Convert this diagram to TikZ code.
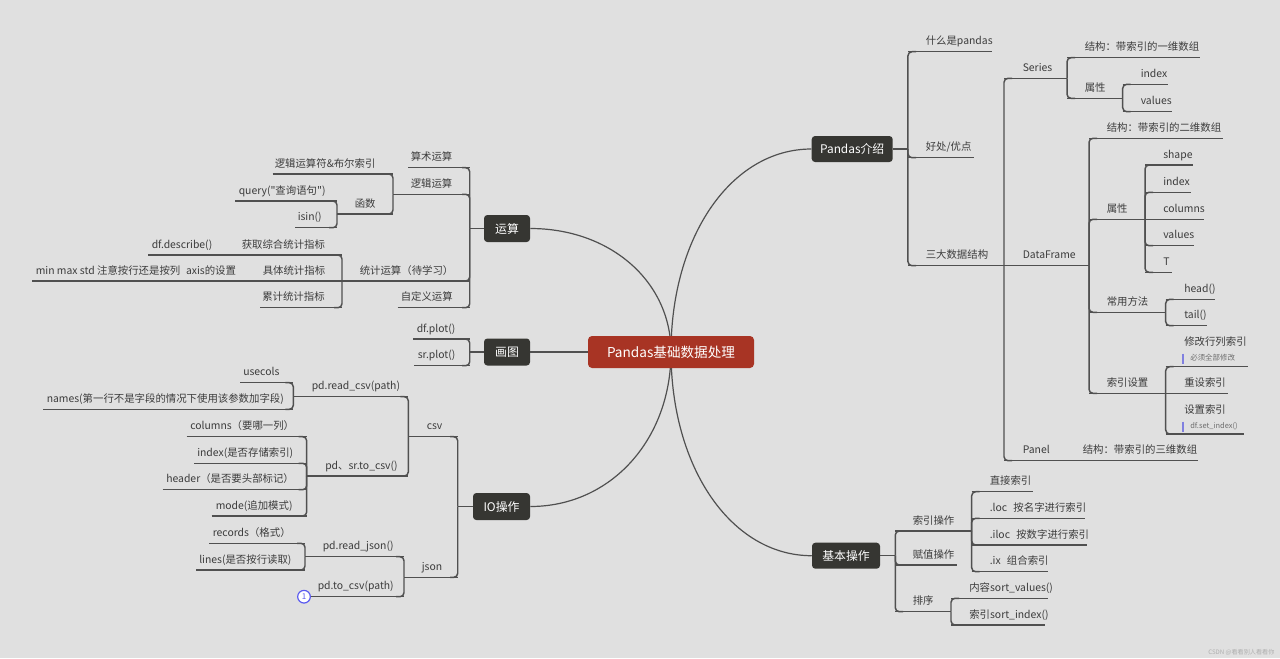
\documentclass[tikz,border=0pt]{standalone}
\usepackage{fontspec}
\setmainfont{Noto Sans CJK SC}[Ligatures=TeXOff]
\usetikzlibrary{calc}
\definecolor{bgc}{HTML}{E0E0E0}
\definecolor{linec}{HTML}{505050}
\definecolor{boxc}{HTML}{363632}
\definecolor{rootc}{HTML}{A83424}
\definecolor{txtc}{HTML}{3C3C3C}
\definecolor{notec}{HTML}{8080E0}
\definecolor{circc}{HTML}{5A5AF0}
\definecolor{wmc}{HTML}{AFAFAF}
\pgfdeclarelayer{bg}
\pgfsetlayers{bg,main}
\tikzset{
  lbl/.style={anchor=base west, inner sep=0pt, text=txtc, font=\fontsize{7.8}{9}\selectfont},
  notelbl/.style={anchor=base west, inner sep=0pt, text=txtc!75, font=\fontsize{5.6}{6}\selectfont},
  ul/.style={draw=linec, line width=1.1pt},
  conn/.style={draw=linec, line width=1.1pt, rounded corners=3pt},
  curve/.style={draw=linec, line width=0.9pt},
  notebar/.style={draw=notec, line width=1.4pt},
  topicbox/.style={fill=boxc, rounded corners=2.5pt, text=white, font=\fontsize{8.9}{10}\selectfont, inner sep=0pt},
  rootbox/.style={fill=rootc, rounded corners=3pt, text=white, font=\fontsize{10.2}{12}\selectfont, inner sep=0pt},
}
% right-side topic: id, x-left, x-right, y-underline, text-x, text
\newcommand\topR[7][7]{%
  \coordinate (#2-l) at (#3,#5);
  \coordinate (#2-r) at (#4,#5);
  \coordinate (#2-a) at (#3+8,#5);
  \node[lbl] (#2) at (#6,#5-#1) {#7};
  \draw[ul] (#2-l) -- (#2-r);}
% left-side topic
\newcommand\topL[7][7]{%
  \coordinate (#2-l) at (#3,#5);
  \coordinate (#2-r) at (#4,#5);
  \coordinate (#2-a) at (#4-8,#5);
  \node[lbl] (#2) at (#6,#5-#1) {#7};
  \draw[ul] (#2-l) -- (#2-r);}
\newcommand\linkc[2]{\draw[conn] (#1) |- (#2-a);}
\newcommand\links[2]{\draw[ul] (#1) -- (#2-a);}
% curve from root centre to node #1 at anchor #2
\newcommand\mcurve[2]{%
  \coordinate (k-#1) at (root.center |- #1.#2);
  \draw[curve] (root.center) .. controls ($(root.center)!0.57!(k-#1)$) and ($(#1.#2)!0.57!(k-#1)$) .. (#1.#2);}

\begin{document}
\begin{tikzpicture}[x=0.75pt,y=-0.75pt]
\useasboundingbox (0,0) rectangle (1280,658);
\begin{pgfonlayer}{bg}
  \fill[bgc] (0,0) rectangle (1280,658);
\end{pgfonlayer}

% ---------- main boxes ----------
\node[rootbox, minimum width=124.5pt, minimum height=24pt] (root) at (671,352) {Pandas基础数据处理};
\node[topicbox, minimum width=34.5pt, minimum height=20.25pt] (yunsuan) at (507,228.5) {运算};
\node[topicbox, minimum width=34.5pt, minimum height=20.25pt] (huatu) at (507,352) {画图};
\node[topicbox, minimum width=42.75pt, minimum height=20.25pt] (io) at (501.5,506.5) {IO操作};
\node[topicbox, minimum width=60.75pt, minimum height=19.5pt] (intro) at (852.2,149) {Pandas介绍};
\node[topicbox, minimum width=51pt, minimum height=19.5pt] (basic) at (846,555.7) {基本操作};

\begin{pgfonlayer}{bg}
  \mcurve{yunsuan}{east}
  \mcurve{io}{east}
  \mcurve{intro}{west}
  \mcurve{basic}{west}
\end{pgfonlayer}
\draw[curve] (root.west) -- (huatu.east);

% ---------- 运算 ----------
\coordinate (j-ys) at ($(yunsuan.west)+(-14,0)$);
\draw[ul] (yunsuan.west) -- (j-ys);
\topL{ss}{408}{470}{167.7}{410.5}{算术运算}
\topL{lj}{408}{470}{194.3}{410.5}{逻辑运算}
\topL{tj}{342}{470}{281}{359.5}{统计运算（待学习）}
\topL{zdy}{397.7}{470}{307.7}{400.5}{自定义运算}
\linkc{j-ys}{ss}\linkc{j-ys}{lj}\linkc{j-ys}{tj}\linkc{j-ys}{zdy}
\topL{fh}{272.7}{393}{174}{274.5}{逻辑运算符\&布尔索引}
\topL{hs}{337}{393}{214}{354.5}{函数}
\coordinate (j-lj) at (393,194.3);
\draw[ul] (lj-l) -- (j-lj);
\linkc{j-lj}{fh}\linkc{j-lj}{hs}
\topL{qy}{235}{337}{201}{238.5}{query("查询语句")}
\topL{isin}{295}{337}{227.7}{297.5}{isin()}
\linkc{hs-l}{qy}\linkc{hs-l}{isin}
\topL{hq}{240}{342}{255}{241.5}{获取综合统计指标}
\topL{jt}{262}{342}{281}{262.5}{具体统计指标}
\topL{ljt}{260}{342}{307.7}{262}{累计统计指标}
\linkc{tj-l}{hq}\links{tj-l}{jt}\linkc{tj-l}{ljt}
\topL{desc}{148}{240}{255}{151.5}{df.describe()}
\links{hq-l}{desc}
\topL{mm}{32}{262}{281}{35.5}{min max std 注意按行还是按列\hspace{0.55em}axis的设置}
\links{jt-l}{mm}

% ---------- 画图 ----------
\coordinate (j-ht) at ($(huatu.west)+(-14,0)$);
\draw[ul] (huatu.west) -- (j-ht);
\topL{dfp}{413.3}{470}{339}{416.5}{df.plot()}
\topL{srp}{414.3}{470}{365.7}{417.5}{sr.plot()}
\linkc{j-ht}{dfp}\linkc{j-ht}{srp}

% ---------- IO操作 ----------
\coordinate (j-io) at ($(io.west)+(-15,0)$);
\draw[ul] (io.west) -- (j-io);
\topL{csv}{408.3}{458}{436.7}{426.5}{csv}
\topL{json}{404}{458}{577.3}{421.5}{json}
\linkc{j-io}{csv}\linkc{j-io}{json}
\topL{rc}{293.3}{408.3}{396.7}{311.5}{pd.read\_csv(path)}
\topL{tc}{306.7}{408.3}{476}{325}{pd、sr.to\_csv()}
\linkc{csv-l}{rc}\linkc{csv-l}{tc}
\topL{uc}{240}{293.3}{382.7}{243}{usecols}
\topL{nm}{43.3}{293.3}{409.3}{46.5}{names(第一行不是字段的情况下使用该参数加字段)}
\linkc{rc-l}{uc}\linkc{rc-l}{nm}
\topL{col}{186.7}{306.7}{436.7}{190}{columns（要哪一列）}
\topL{idx}{194}{306.7}{463.3}{197}{index(是否存储索引)}
\topL{hd}{162.7}{306.7}{489.7}{166}{header（是否要头部标记）}
\topL{md}{211.7}{306.7}{516}{215.5}{mode(追加模式)}
\linkc{tc-l}{col}\linkc{tc-l}{idx}\linkc{tc-l}{hd}\linkc{tc-l}{md}
\topL{rj}{305}{404}{556.7}{322.5}{pd.read\_json()}
\topL{tcp}{309}{404}{596.7}{317.5}{pd.to\_csv(path)}
\linkc{json-l}{rj}\linkc{json-l}{tcp}
\topL{rec}{209.3}{305}{543.3}{212.5}{records（格式）}
\topL{ln}{196}{305}{570}{199}{lines(是否按行读取)}
\linkc{rj-l}{rec}\linkc{rj-l}{ln}
\node[circle, draw=circc, fill=white, line width=0.9pt, minimum size=9.5pt, inner sep=0pt, text=circc, font=\fontsize{6}{6}\selectfont] (num) at (304,596.7) {1};

% ---------- Pandas介绍 ----------
\coordinate (j-in) at ($(intro.east)+(15,0)$);
\draw[ul] (intro.east) -- (j-in);
\topR{what}{908}{992}{51.7}{925.5}{什么是pandas}
\topR{good}{908}{974}{157.7}{925.5}{好处/优点}
\topR{three}{908}{1004}{265.7}{925.5}{三大数据结构}
\linkc{j-in}{what}\linkc{j-in}{good}\linkc{j-in}{three}
\topR{ser}{1004}{1067}{78.3}{1022.5}{Series}
\topR{df}{1004}{1089}{265.7}{1022.5}{DataFrame}
\topR{pnl}{1004}{1066}{460.7}{1022.5}{Panel}
\linkc{three-r}{ser}\links{three-r}{df}\linkc{three-r}{pnl}
\topR{sa}{1067}{1200}{57.7}{1084.5}{结构：带索引的一维数组}
\topR{sb}{1067}{1122.7}{98.3}{1084.5}{属性}
\linkc{ser-r}{sa}\linkc{ser-r}{sb}
\topR{sba}{1122.7}{1168}{84.3}{1140.5}{index}
\topR{sbb}{1122.7}{1171.7}{111.7}{1140.5}{values}
\linkc{sb-r}{sba}\linkc{sb-r}{sbb}
\topR{da}{1089}{1222.7}{138.3}{1106.5}{结构：带索引的二维数组}
\topR{db}{1089}{1145}{219.3}{1106.5}{属性}
\topR{dc}{1089}{1165.7}{312.3}{1106.5}{常用方法}
\topR{dd}{1089}{1165.7}{393.3}{1106.5}{索引设置}
\linkc{df-r}{da}\linkc{df-r}{db}\linkc{df-r}{dc}\linkc{df-r}{dd}
\topR{pa}{1145}{1192.7}{165}{1163}{shape}
\topR{pb}{1145}{1191}{192.3}{1163}{index}
\topR{pc}{1145}{1204.3}{219.3}{1163}{columns}
\topR{pd}{1145}{1194.3}{245.7}{1163}{values}
\topR{pe}{1145}{1171.7}{272.3}{1163}{T}
\linkc{db-r}{pa}\linkc{db-r}{pb}\links{db-r}{pc}\linkc{db-r}{pd}\linkc{db-r}{pe}
\topR{ma}{1165.7}{1215}{299.3}{1184}{head()}
\topR{mb}{1165.7}{1206.7}{325.7}{1184}{tail()}
\linkc{dc-r}{ma}\linkc{dc-r}{mb}
\topR[21]{xa}{1165.7}{1248.3}{366.7}{1184}{修改行列索引}
\topR{xb}{1165.7}{1227.7}{393.3}{1184}{重设索引}
\topR[21]{xc}{1165.7}{1244.3}{434}{1184}{设置索引}
\linkc{dd-r}{xa}\links{dd-r}{xb}\linkc{dd-r}{xc}
\node[notelbl] (xan) at (1190,360.8) {必须全部修改};
\draw[notebar] (1183.3,353.5) -- (1183.3,363.5);
\node[notelbl] (xcn) at (1190,428.8) {df.set\_index()};
\draw[notebar] (1183.3,421.5) -- (1183.3,431.5);
\topR{pnc}{1066}{1198.3}{460.7}{1082.5}{结构：带索引的三维数组}
\links{pnl-r}{pnc}

% ---------- 基本操作 ----------
\coordinate (j-bs) at ($(basic.east)+(15,0)$);
\draw[ul] (basic.east) -- (j-bs);
\topR{sy}{895}{971.7}{531}{912.5}{索引操作}
\topR{fz}{895}{956.7}{565}{912.5}{赋值操作}
\topR{px}{895}{951}{611.7}{912.5}{排序}
\linkc{j-bs}{sy}\linkc{j-bs}{fz}\linkc{j-bs}{px}
\topR{zj}{971.7}{1033.3}{491.7}{989.5}{直接索引}
\topR{loc}{971.7}{1085}{518.3}{989.5}{.loc\hspace{0.6em}按名字进行索引}
\topR{iloc}{971.7}{1087.3}{545}{989.5}{.iloc\hspace{0.6em}按数字进行索引}
\topR{ix}{971.7}{1048.3}{571.7}{989.5}{.ix\hspace{0.6em}组合索引}
\linkc{sy-r}{zj}\linkc{sy-r}{loc}\linkc{sy-r}{iloc}\linkc{sy-r}{ix}
\topR{sv}{951}{1048.3}{598.3}{969}{内容sort\_values()}
\topR{si}{951}{1045}{625}{969}{索引sort\_index()}
\linkc{px-r}{sv}\linkc{px-r}{si}

\node[anchor=base west, inner sep=0pt, text=wmc, font=\fontsize{4.6}{5}\selectfont] (wm) at (1208,654) {CSDN @看看别人看看你};
\end{tikzpicture}
\end{document}
